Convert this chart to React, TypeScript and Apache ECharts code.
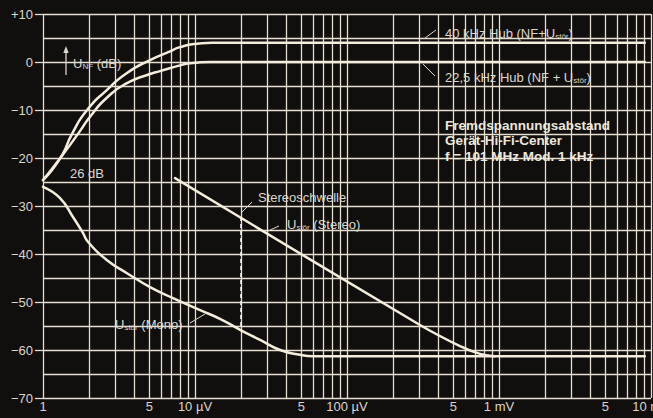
import React, { useEffect, useRef } from "react";
import * as echarts from "echarts";

// ---- data (x in µV, y in dB) ----
const hub40X = [1, 1.29, 1.575, 1.95, 2.64, 3.57, 5.06, 6.85, 7.96, 10.3, 13, 9100];
const hub40Y = [-24.6, -20.2, -14.6, -10, -5.8, -2.3, 0.4, 2.2, 3.1, 3.8, 4, 4];

const hub22X = [1, 1.35, 1.75, 2.04, 2.64, 3.57, 5.06, 5.88, 7.96, 9.7, 12.6, 15, 9100];
const hub22Y = [-24.6, -19.3, -14.4, -11.4, -7.4, -4.4, -2.5, -1.9, -0.7, -0.2, 0, 0, 0];

const monoX = [1, 1.29, 1.575, 1.83, 1.98, 2.64, 3.57, 5.06, 7.17, 10.8, 14.6, 19.8, 26.8, 36.3, 49.1, 59.8, 9100];
const monoY = [-26, -28.3, -32.3, -35.6, -37.5, -41.3, -44, -46.9, -49.2, -51.7, -53.5, -55.8, -57.9, -60, -61, -61.3, -61.3];

const stereoX = [7.39, 302, 554, 750, 941];
const stereoY = [-24.2, -54.8, -59.2, -60.8, -61.3];

const stereoThresholdX = 20;
const stereoThresholdY = [-32.3, -55.8];

const xLabelValues = [1, 5, 10, 50, 100, 500, 1000, 5000, 10000];
const xLabelTexts = ["1", "5", "10 µV", "5", "100 µV", "5", "1 mV", "5", "10 mV"];
const xGridMantissas = [1, 2, 3, 4, 5, 6, 7, 8, 9];
const xGridDecades = [1, 10, 100, 1000];

const FONT = '"Liberation Sans", Arial, Helvetica, sans-serif';
const BG = "#110e0e";
const GRID = "#e6dfcf";
const CURVE = "#f5eddb";
const TXT = "#dcd7ce";

function pairs(xs: number[], ys: number[]) {
  return xs.map((x, i) => [x, ys[i]]);
}

export default function App() {
  const ref = useRef<HTMLDivElement>(null);
  useEffect(() => {
    document.body.style.margin = "0";
    const chart = echarts.init(ref.current!, null, { renderer: "svg" });

    const gridVals: number[] = [];
    xGridDecades.forEach((d) => xGridMantissas.forEach((m) => gridVals.push(m * d)));
    gridVals.push(10000);

    const gridLines = gridVals.map((v) => {
      const li = xLabelValues.indexOf(v);
      return {
        xAxis: v,
        label: {
          show: li >= 0,
          formatter: li >= 0 ? xLabelTexts[li] : "",
          position: "start",
          distance: 2,
          color: TXT,
          fontSize: 13,
          fontFamily: FONT,
        },
      };
    });

    const sub = (s: string) => `{s|${s}}`;
    const richStyle = {
      a: { fontSize: 13, lineHeight: 16, verticalAlign: "bottom", fontFamily: FONT, fill: TXT },
      s: { fontSize: 8, lineHeight: 10, verticalAlign: "bottom", fontFamily: FONT, fill: TXT },
    };
    const richText = (x: number, y: number, t: string) => ({
      type: "text",
      x,
      y,
      style: {
        text: t,
        rich: richStyle,
        fill: TXT,
        font: `13px ${FONT}`,
        verticalAlign: "middle",
      },
      z: 10,
    });
    const leader = (x1: number, y1: number, x2: number, y2: number) => ({
      type: "line",
      shape: { x1, y1, x2, y2 },
      style: { stroke: TXT, lineWidth: 1 },
      z: 10,
    });
    const boldText = (x: number, y: number, t: string) => ({
      type: "text",
      x,
      y,
      style: {
        text: t,
        fill: "#ece7dc",
        font: `bold 13.5px ${FONT}`,
        verticalAlign: "middle",
      },
      z: 10,
    });

    const lineSeries = (name: string, data: number[][], smooth: number | boolean) => ({
      name,
      type: "line",
      data,
      smooth,
      symbol: "none",
      lineStyle: { color: CURVE, width: 2.5, join: "round", cap: "round" },
      z: 5,
    });

    chart.setOption({
      animation: false,
      backgroundColor: BG,
      grid: { left: 43, right: 2, top: 14, bottom: 20 },
      xAxis: {
        type: "log",
        logBase: 10,
        min: 1,
        max: 10000,
        axisLabel: { show: false },
        axisTick: { show: false },
        axisLine: { show: false },
        splitLine: { show: false },
      },
      yAxis: {
        type: "value",
        min: -70,
        max: 10,
        interval: 10,
        axisLine: { show: false },
        axisTick: { show: true, length: 8, lineStyle: { color: GRID, width: 1.3 } },
        axisLabel: {
          margin: 10,
          color: TXT,
          fontSize: 13,
          fontFamily: FONT,
          formatter: (v: number) => (v > 0 ? "+" + v : v < 0 ? "\u2212" + Math.abs(v) : "0"),
        },
        splitLine: { show: true, lineStyle: { color: GRID, width: 1.3 } },
        minorTick: { show: false, splitNumber: 2 },
        minorSplitLine: { show: true, lineStyle: { color: GRID, width: 1.3 } },
      },
      series: [
        {
          name: "grid",
          type: "line",
          data: [],
          markLine: {
            silent: true,
            symbol: "none",
            animation: false,
            lineStyle: { color: GRID, width: 1.3, type: "solid" },
            label: { show: false },
            data: gridLines,
          },
          z: 1,
        },
        lineSeries("40 kHz Hub", pairs(hub40X, hub40Y), 0.6),
        lineSeries("22,5 kHz Hub", pairs(hub22X, hub22Y), 0.6),
        lineSeries("Ustör (Mono)", pairs(monoX, monoY), 0.5),
        {
          ...lineSeries("Ustör (Stereo)", pairs(stereoX, stereoY), 0.3),
          markLine: {
            silent: true,
            symbol: "none",
            animation: false,
            label: { show: false },
            lineStyle: { color: "#ffffff", width: 1.5, type: [4, 3] },
            data: [
              [
                { coord: [stereoThresholdX, stereoThresholdY[0]] },
                { coord: [stereoThresholdX, stereoThresholdY[1]] },
              ],
            ],
          },
        },
      ],
      graphic: [
        { type: "line", shape: { x1: 66, y1: 75, x2: 66, y2: 51 }, style: { stroke: TXT, lineWidth: 1.3 }, z: 10 },
        { type: "polygon", shape: { points: [[66, 46], [63.3, 53], [68.7, 53]] }, style: { fill: TXT }, z: 10 },
        richText(73, 62, `{a|U}${sub("NF")}{a| (dB)}`),
        richText(70, 172, `{a|26 dB}`),
        richText(445, 32, `{a|40 kHz Hub (NF+U}${sub("stör")}{a|)}`),
        leader(425, 38, 436, 30),
        richText(445, 76, `{a|22,5 kHz Hub (NF + U}${sub("stör")}{a|)}`),
        leader(423, 64, 435, 76),
        boldText(445, 125, "Fremdspannungsabstand"),
        boldText(445, 140.5, "Gerät-Hi-Fi-Center"),
        boldText(445, 156, "f = 101 MHz Mod. 1 kHz"),
        richText(258, 196, `{a|Stereoschwelle}`),
        leader(242, 212, 252, 202),
        richText(287, 223, `{a|U}${sub("stör")}{a| (Stereo)}`),
        leader(268, 231, 279, 226),
        richText(115, 323, `{a|U}${sub("stör")}{a| (Mono)}`),
        leader(190, 323, 205, 314),
      ],
    });
    return () => chart.dispose();
  }, []);
  return (
    <div
      ref={ref}
      style={{ position: "absolute", left: 0, top: 0, width: 653, height: 418 }}
    />
  );
}
